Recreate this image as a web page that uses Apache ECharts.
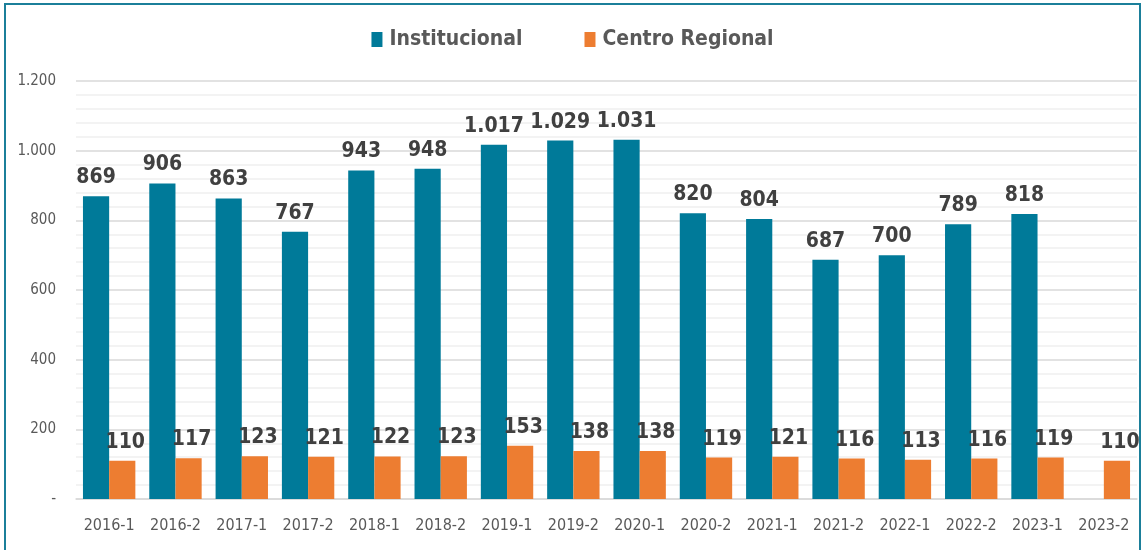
<!DOCTYPE html>
<html><head><meta charset="utf-8">
<script src="https://cdn.jsdelivr.net/npm/echarts@6/dist/echarts.min.js"></script>
<style>
html,body{margin:0;padding:0;background:#fff;}
#frame{position:absolute;left:4px;top:3px;width:1137px;height:560px;border:2px solid #1b7f9a;box-sizing:border-box;}
#c{position:absolute;left:0;top:0;width:1145px;height:550px;}
</style></head>
<body><div id="frame"></div><div id="c"></div>
<script>
const categories = ['2016-1','2016-2','2017-1','2017-2','2018-1','2018-2','2019-1','2019-2','2020-1','2020-2','2021-1','2021-2','2022-1','2022-2','2023-1','2023-2'];
const institucional = [869,906,863,767,943,948,1017,1029,1031,820,804,687,700,789,818,null];
const centroRegional = [110,117,123,121,122,123,153,138,138,119,121,116,113,116,119,110];
const seriesNames = ['Institucional','Centro Regional'];
const yTicks = {min:0, max:1200, interval:200};

const FONT = '"DejaVu Sans Condensed", sans-serif';
function fmt(v){ if(v===0) return '-'; return String(v).replace(/\B(?=(\d{3})+(?!\d))/g,'.'); }

const chart = echarts.init(document.getElementById('c'), null, {renderer:'canvas'});
const labelStyle = {show:true, position:'top', distance:8, color:'#404040', fontFamily:FONT, fontWeight:'bold', fontSize:21, formatter:p=>fmt(p.value)};
chart.setOption({
  animation:false,
  backgroundColor:'transparent',
  legend:{top:24, left:'center', itemWidth:11, itemHeight:15, itemGap:62, icon:'rect',
    textStyle:{color:'#595959', fontFamily:FONT, fontWeight:'bold', fontSize:21, padding:[0,0,0,2]}},
  grid:{left:76, right:8, top:81, bottom:51, containLabel:false},
  xAxis:{type:'category', data:categories, axisTick:{show:false},
    axisLine:{lineStyle:{color:'#d9d9d9', width:1.5}},
    axisLabel:{interval:0, color:'#595959', fontFamily:FONT, fontSize:16, margin:19}},
  yAxis:{type:'value', min:yTicks.min, max:yTicks.max, interval:yTicks.interval,
    axisLine:{show:false}, axisTick:{show:false},
    axisLabel:{color:'#595959', fontFamily:FONT, fontSize:15, margin:20, formatter:fmt},
    splitLine:{lineStyle:{color:'#d9d9d9', width:1.5}},
    minorTick:{show:false, splitNumber:5},
    minorSplitLine:{show:true, lineStyle:{color:'#f0f0f0', width:1.5}}},
  series:[
    {name:seriesNames[0], type:'bar', data:institucional, itemStyle:{color:'#007a99'}, barGap:'0%', barCategoryGap:'21%', label:labelStyle},
    {name:seriesNames[1], type:'bar', data:centroRegional, itemStyle:{color:'#ed7d31'}, barGap:'0%', barCategoryGap:'21%', label:Object.assign({}, labelStyle, {offset:[3,0]})}
  ]
});
</script></body></html>
